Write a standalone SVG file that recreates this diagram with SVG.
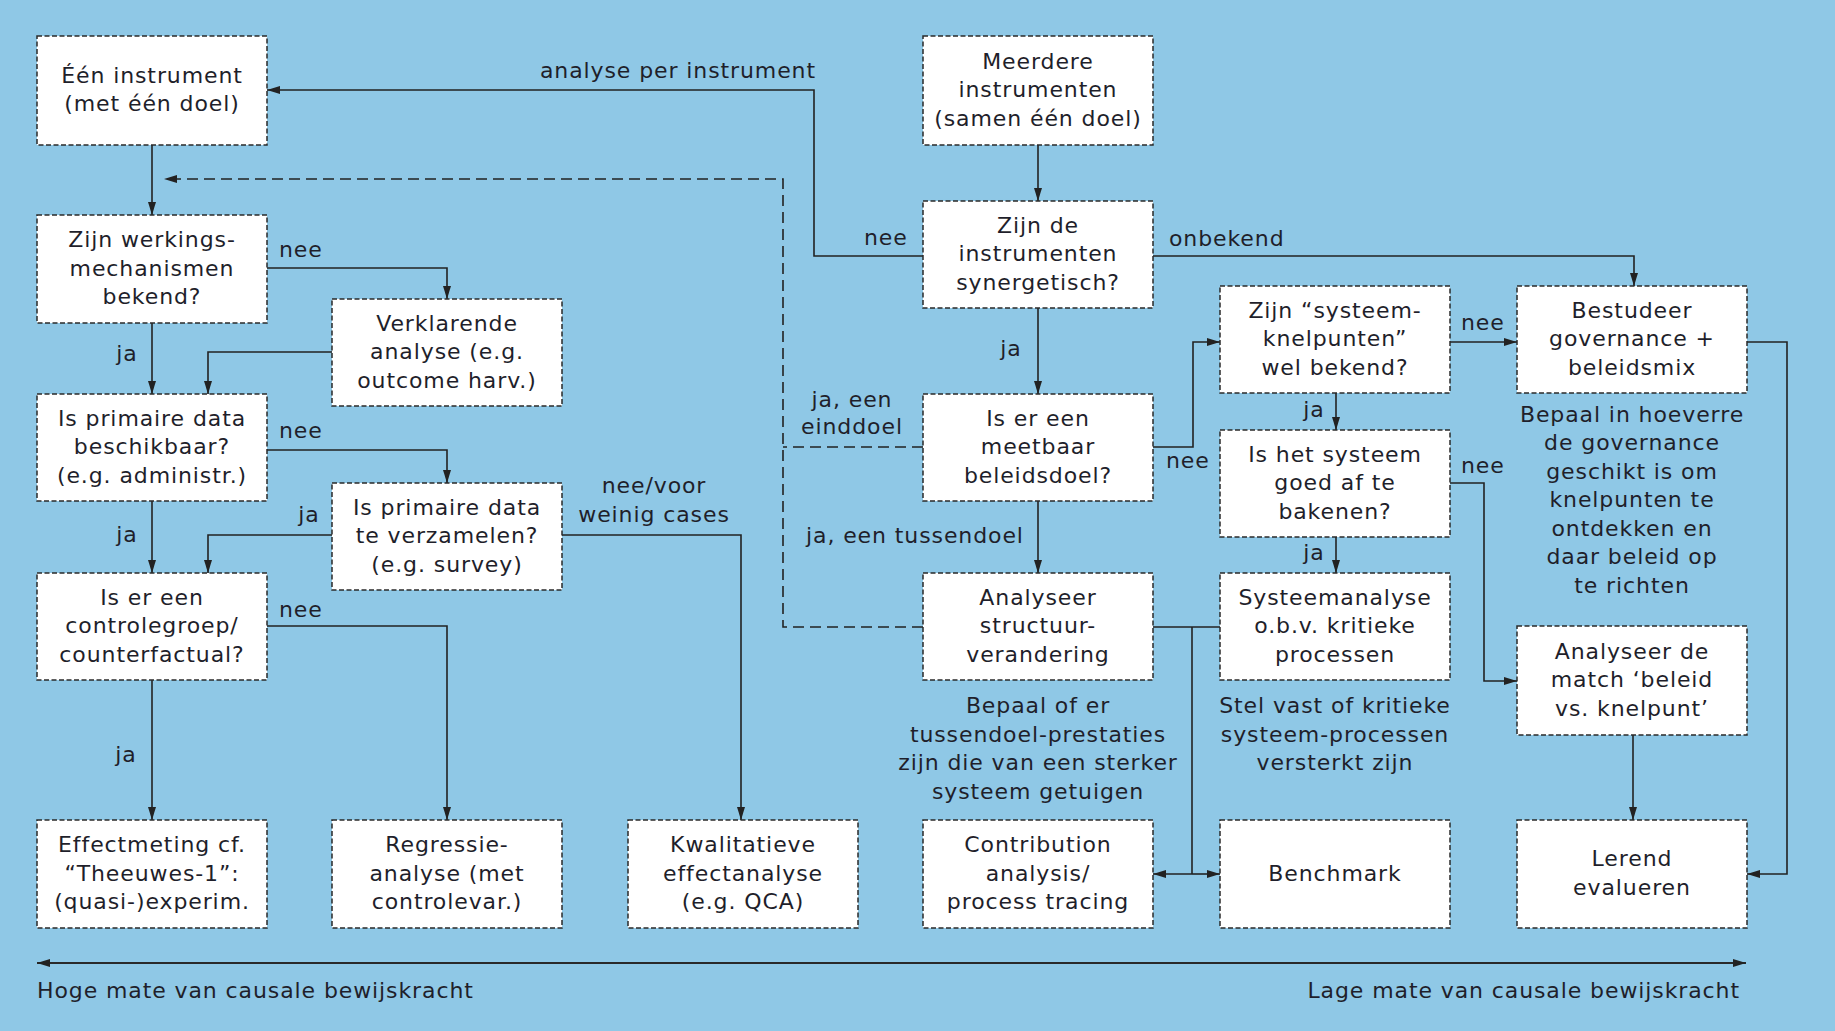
<svg xmlns="http://www.w3.org/2000/svg" width="1835" height="1031" viewBox="0 0 1835 1031">
<defs>
<style>
.bg{fill:#8fc8e6}
.box{fill:#fff;stroke:#2a2a2a;stroke-width:1.5;stroke-dasharray:5 2.5}
text{font-family:"DejaVu Sans",Verdana,sans-serif;font-size:22px;letter-spacing:0.9px;fill:#1f1f2b}
.c{text-anchor:middle}
.e{text-anchor:end}
.ln{fill:none;stroke:#222;stroke-width:1.6}
.dash{fill:none;stroke:#222;stroke-width:1.6;stroke-dasharray:11 6}
.axis{fill:none;stroke:#2a2a2a;stroke-width:2}
</style>
<marker id="ah" viewBox="0 0 13 8" refX="13" refY="4" markerWidth="13" markerHeight="8" markerUnits="userSpaceOnUse" orient="auto-start-reverse">
<path d="M0,0 L13,4 L0,8 z" fill="#222"/>
</marker>
</defs>
<rect class="bg" x="0" y="0" width="1835" height="1031"/>

<g id="connectors">
<path class="ln" d="M152,145 V215" marker-end="url(#ah)"/>
<path class="ln" d="M267,268 H447 V299" marker-end="url(#ah)"/>
<path class="ln" d="M152,323 V394" marker-end="url(#ah)"/>
<path class="ln" d="M332,352 H208 V394" marker-end="url(#ah)"/>
<path class="ln" d="M267,450 H447 V483" marker-end="url(#ah)"/>
<path class="ln" d="M152,501 V573" marker-end="url(#ah)"/>
<path class="ln" d="M332,535 H208 V573" marker-end="url(#ah)"/>
<path class="ln" d="M562,535 H741 V820" marker-end="url(#ah)"/>
<path class="ln" d="M267,626 H447 V820" marker-end="url(#ah)"/>
<path class="ln" d="M152,680 V820" marker-end="url(#ah)"/>
<path class="ln" d="M1038,145 V201" marker-end="url(#ah)"/>
<path class="ln" d="M923,256 H814 V90 H267" marker-end="url(#ah)"/>
<path class="ln" d="M1153,256 H1634 V286" marker-end="url(#ah)"/>
<path class="ln" d="M1038,308 V394" marker-end="url(#ah)"/>
<path class="ln" d="M1153,447 H1193 V342 H1220" marker-end="url(#ah)"/>
<path class="ln" d="M1038,501 V573" marker-end="url(#ah)"/>
<path class="ln" d="M1450,342 H1517" marker-end="url(#ah)"/>
<path class="ln" d="M1336,393 V430" marker-end="url(#ah)"/>
<path class="ln" d="M1336,537 V573" marker-end="url(#ah)"/>
<path class="ln" d="M1450,483 H1484 V681 H1517" marker-end="url(#ah)"/>
<path class="ln" d="M1747,342 H1787 V874 H1747" marker-end="url(#ah)"/>
<path class="ln" d="M1633,735 V820" marker-end="url(#ah)"/>
<path class="ln" d="M1153,627 H1220"/>
<path class="ln" d="M1192,627 V874"/>
<path class="ln" d="M1192,874 H1153" marker-end="url(#ah)"/>
<path class="ln" d="M1192,874 H1220" marker-end="url(#ah)"/>
<path class="dash" d="M923,447 H783"/>
<path class="dash" d="M923,627 H783 V179 H164" marker-end="url(#ah)"/>
<path class="axis" d="M37,963 H1746" marker-start="url(#ah)" marker-end="url(#ah)"/>

<text x="816" y="78" class="e">analyse per instrument</text>
<text x="864" y="245">nee</text>
<text x="1169" y="246">onbekend</text>
<text x="279" y="257">nee</text>
<text x="127" y="361" class="c">ja</text>
<text x="279" y="438">nee</text>
<text x="309" y="522" class="c">ja</text>
<text x="127" y="542" class="c">ja</text>
<text x="279" y="617">nee</text>
<text x="126" y="762" class="c">ja</text>
<text x="654" y="493" class="c">nee/voor</text>
<text x="654" y="522" class="c">weinig cases</text>
<text x="1011" y="356" class="c">ja</text>
<text x="852" y="407" class="c">ja, een</text>
<text x="852" y="434" class="c">einddoel</text>
<text x="806" y="543">ja, een tussendoel</text>
<text x="1166" y="468">nee</text>
<text x="1461" y="330">nee</text>
<text x="1314" y="417" class="c">ja</text>
<text x="1461" y="473">nee</text>
<text x="1314" y="560" class="c">ja</text>
</g>

<g id="n-een-instrument"><rect class="box" x="37" y="36" width="230" height="109"/>
<text class="c" x="152" y="83">Één instrument</text><text class="c" x="152" y="111">(met één doel)</text></g>

<g id="n-werkings"><rect class="box" x="37" y="215" width="230" height="108"/>
<text class="c" x="152" y="247">Zijn werkings-</text><text class="c" x="152" y="275.5">mechanismen</text><text class="c" x="152" y="304">bekend?</text></g>

<g id="n-verklarende"><rect class="box" x="332" y="299" width="230" height="107"/>
<text class="c" x="447" y="330.5">Verklarende</text><text class="c" x="447" y="359">analyse (e.g.</text><text class="c" x="447" y="387.5">outcome harv.)</text></g>

<g id="n-beschikbaar"><rect class="box" x="37" y="394" width="230" height="107"/>
<text class="c" x="152" y="425.5">Is primaire data</text><text class="c" x="152" y="454">beschikbaar?</text><text class="c" x="152" y="482.5">(e.g. administr.)</text></g>

<g id="n-verzamelen"><rect class="box" x="332" y="483" width="230" height="107"/>
<text class="c" x="447" y="514.5">Is primaire data</text><text class="c" x="447" y="543">te verzamelen?</text><text class="c" x="447" y="571.5">(e.g. survey)</text></g>

<g id="n-controlegroep"><rect class="box" x="37" y="573" width="230" height="107"/>
<text class="c" x="152" y="604.5">Is er een</text><text class="c" x="152" y="633">controlegroep/</text><text class="c" x="152" y="661.5">counterfactual?</text></g>

<g id="n-effectmeting"><rect class="box" x="37" y="820" width="230" height="108"/>
<text class="c" x="152" y="852">Effectmeting cf.</text><text class="c" x="152" y="880.5">“Theeuwes-1”:</text><text class="c" x="152" y="909">(quasi-)experim.</text></g>

<g id="n-regressie"><rect class="box" x="332" y="820" width="230" height="108"/>
<text class="c" x="447" y="852">Regressie-</text><text class="c" x="447" y="880.5">analyse (met</text><text class="c" x="447" y="909">controlevar.)</text></g>

<g id="n-kwalitatieve"><rect class="box" x="628" y="820" width="230" height="108"/>
<text class="c" x="743" y="852">Kwalitatieve</text><text class="c" x="743" y="880.5">effectanalyse</text><text class="c" x="743" y="909">(e.g. QCA)</text></g>

<g id="n-meerdere"><rect class="box" x="923" y="36" width="230" height="109"/>
<text class="c" x="1038" y="68.5">Meerdere</text><text class="c" x="1038" y="97">instrumenten</text><text class="c" x="1038" y="125.5">(samen één doel)</text></g>

<g id="n-synergetisch"><rect class="box" x="923" y="201" width="230" height="107"/>
<text class="c" x="1038" y="232.5">Zijn de</text><text class="c" x="1038" y="261">instrumenten</text><text class="c" x="1038" y="289.5">synergetisch?</text></g>

<g id="n-meetbaar"><rect class="box" x="923" y="394" width="230" height="107"/>
<text class="c" x="1038" y="425.5">Is er een</text><text class="c" x="1038" y="454">meetbaar</text><text class="c" x="1038" y="482.5">beleidsdoel?</text></g>

<g id="n-structuur"><rect class="box" x="923" y="573" width="230" height="107"/>
<text class="c" x="1038" y="604.5">Analyseer</text><text class="c" x="1038" y="633">structuur-</text><text class="c" x="1038" y="661.5">verandering</text></g>

<g id="t-bepaal-of-er">
<text class="c" x="1038" y="713">Bepaal of er</text><text class="c" x="1038" y="741.5">tussendoel-prestaties</text><text class="c" x="1038" y="770">zijn die van een sterker</text><text class="c" x="1038" y="798.5">systeem getuigen</text></g>

<g id="n-contribution"><rect class="box" x="923" y="820" width="230" height="108"/>
<text class="c" x="1038" y="852">Contribution</text><text class="c" x="1038" y="880.5">analysis/</text><text class="c" x="1038" y="909">process tracing</text></g>

<g id="n-knelpunten"><rect class="box" x="1220" y="286" width="230" height="107"/>
<text class="c" x="1335" y="317.5">Zijn “systeem-</text><text class="c" x="1335" y="346">knelpunten”</text><text class="c" x="1335" y="374.5">wel bekend?</text></g>

<g id="n-afbakenen"><rect class="box" x="1220" y="430" width="230" height="107"/>
<text class="c" x="1335" y="461.5">Is het systeem</text><text class="c" x="1335" y="490">goed af te</text><text class="c" x="1335" y="518.5">bakenen?</text></g>

<g id="n-systeemanalyse"><rect class="box" x="1220" y="573" width="230" height="107"/>
<text class="c" x="1335" y="604.5">Systeemanalyse</text><text class="c" x="1335" y="633">o.b.v. kritieke</text><text class="c" x="1335" y="661.5">processen</text></g>

<g id="t-stel-vast">
<text class="c" x="1335" y="713">Stel vast of kritieke</text><text class="c" x="1335" y="741.5">systeem-processen</text><text class="c" x="1335" y="770">versterkt zijn</text></g>

<g id="n-benchmark"><rect class="box" x="1220" y="820" width="230" height="108"/>
<text class="c" x="1335" y="880.5">Benchmark</text></g>

<g id="n-bestudeer"><rect class="box" x="1517" y="286" width="230" height="107"/>
<text class="c" x="1632" y="317.5">Bestudeer</text><text class="c" x="1632" y="346">governance +</text><text class="c" x="1632" y="374.5">beleidsmix</text></g>

<g id="t-bepaal-in-hoeverre">
<text class="c" x="1632" y="421.5">Bepaal in hoeverre</text><text class="c" x="1632" y="450">de governance</text><text class="c" x="1632" y="478.5">geschikt is om</text><text class="c" x="1632" y="507">knelpunten te</text><text class="c" x="1632" y="535.5">ontdekken en</text><text class="c" x="1632" y="564">daar beleid op</text><text class="c" x="1632" y="592.5">te richten</text></g>

<g id="n-match"><rect class="box" x="1517" y="626" width="230" height="109"/>
<text class="c" x="1632" y="658.5">Analyseer de</text><text class="c" x="1632" y="687">match ‘beleid</text><text class="c" x="1632" y="715.5">vs. knelpunt’</text></g>

<g id="n-lerend"><rect class="box" x="1517" y="820" width="230" height="108"/>
<text class="c" x="1632" y="866">Lerend</text><text class="c" x="1632" y="894.5">evalueren</text></g>

<g id="axis-labels">
<text x="37" y="998">Hoge mate van causale bewijskracht</text>
<text x="1740" y="998" class="e">Lage mate van causale bewijskracht</text>
</g>
</svg>
